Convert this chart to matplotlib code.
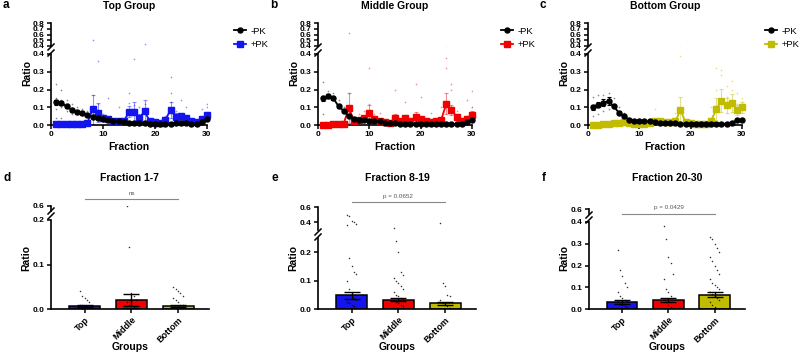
import numpy as np
import matplotlib.pyplot as plt
from matplotlib.lines import Line2D

plt.rcParams['font.family'] = ['Liberation Sans', 'DejaVu Sans']
plt.rcParams['font.weight'] = 'bold'

# ---------------- data: fraction profiles (mean, sem) ----------------
fractions = np.arange(1, 31)

top_neg = [0.128, 0.122, 0.105, 0.085, 0.075, 0.065, 0.055, 0.045, 0.04, 0.035,
           0.03, 0.025, 0.02, 0.015, 0.012, 0.01, 0.01, 0.01, 0.008, 0.008,
           0.008, 0.008, 0.008, 0.01, 0.01, 0.01, 0.008, 0.008, 0.015, 0.035]
top_neg_sem = [0.015, 0.012, 0.01, 0.008, 0.006, 0.006, 0.005, 0.005, 0.004, 0.004,
               0.004, 0.003, 0.003, 0.003, 0.002, 0.002, 0.002, 0.002, 0.002, 0.002,
               0.002, 0.002, 0.002, 0.002, 0.002, 0.002, 0.002, 0.002, 0.004, 0.008]
top_pos = [0.005, 0.005, 0.005, 0.005, 0.008, 0.008, 0.012, 0.088, 0.07, 0.04,
           0.035, 0.02, 0.025, 0.02, 0.075, 0.075, 0.04, 0.078, 0.02, 0.015,
           0.012, 0.03, 0.085, 0.045, 0.048, 0.04, 0.022, 0.015, 0.035, 0.055]
top_pos_sem = [0.002, 0.002, 0.002, 0.002, 0.003, 0.003, 0.004, 0.08, 0.055, 0.015,
               0.012, 0.006, 0.01, 0.006, 0.03, 0.055, 0.02, 0.065, 0.006, 0.005,
               0.004, 0.01, 0.045, 0.02, 0.02, 0.015, 0.006, 0.005, 0.012, 0.02]

mid_neg = [0.15, 0.163, 0.15, 0.105, 0.08, 0.05, 0.035, 0.03, 0.03, 0.025,
           0.025, 0.02, 0.012, 0.01, 0.01, 0.008, 0.006, 0.005, 0.005, 0.005,
           0.005, 0.005, 0.005, 0.005, 0.005, 0.005, 0.005, 0.008, 0.015, 0.028]
mid_neg_sem = [0.012, 0.01, 0.01, 0.01, 0.008, 0.006, 0.004, 0.004, 0.004, 0.003,
               0.003, 0.003, 0.002, 0.002, 0.002, 0.002, 0.002, 0.002, 0.002, 0.002,
               0.002, 0.002, 0.002, 0.002, 0.002, 0.002, 0.002, 0.002, 0.004, 0.008]
mid_pos = [0.002, 0.002, 0.005, 0.005, 0.008, 0.095, 0.025, 0.03, 0.04, 0.07,
           0.035, 0.025, 0.015, 0.012, 0.04, 0.025, 0.04, 0.02, 0.045, 0.035,
           0.02, 0.018, 0.02, 0.03, 0.12, 0.085, 0.045, 0.02, 0.035, 0.055]
mid_pos_sem = [0.001, 0.001, 0.002, 0.002, 0.003, 0.085, 0.008, 0.008, 0.01, 0.04,
               0.01, 0.006, 0.004, 0.004, 0.02, 0.008, 0.015, 0.006, 0.03, 0.012,
               0.005, 0.005, 0.006, 0.01, 0.06, 0.03, 0.012, 0.006, 0.01, 0.025]

bot_neg = [0.1, 0.115, 0.125, 0.135, 0.105, 0.07, 0.05, 0.03, 0.025, 0.022,
           0.02, 0.02, 0.015, 0.012, 0.01, 0.01, 0.01, 0.008, 0.008, 0.008,
           0.006, 0.006, 0.006, 0.006, 0.006, 0.006, 0.008, 0.01, 0.028, 0.03]
bot_neg_sem = [0.015, 0.015, 0.02, 0.02, 0.01, 0.008, 0.006, 0.004, 0.003, 0.003,
               0.003, 0.003, 0.002, 0.002, 0.002, 0.002, 0.002, 0.002, 0.002, 0.002,
               0.002, 0.002, 0.002, 0.002, 0.002, 0.002, 0.002, 0.002, 0.006, 0.006]
bot_pos = [0.002, 0.002, 0.005, 0.008, 0.01, 0.012, 0.015, 0.01, 0.008, 0.008,
           0.008, 0.01, 0.025, 0.02, 0.015, 0.015, 0.02, 0.085, 0.015, 0.01,
           0.005, 0.005, 0.008, 0.025, 0.09, 0.138, 0.11, 0.122, 0.085, 0.1]
bot_pos_sem = [0.001, 0.001, 0.002, 0.003, 0.003, 0.004, 0.005, 0.004, 0.003, 0.003,
               0.003, 0.004, 0.01, 0.008, 0.006, 0.006, 0.008, 0.075, 0.006, 0.004,
               0.002, 0.002, 0.003, 0.01, 0.06, 0.065, 0.04, 0.05, 0.03, 0.03]

# individual replicate points that stand out (fraction, ratio)
top_neg_pts = [(1, 0.23), (1, 0.15), (1, 0.09), (2, 0.2), (2, 0.14), (2, 0.1), (3, 0.14),
               (3, 0.08), (4, 0.12), (4, 0.06), (5, 0.1), (6, 0.09), (7, 0.08), (8, 0.06),
               (1, 0.04), (2, 0.04)]
top_pos_pts = [(8, 0.51), (9, 0.36), (16, 0.37), (18, 0.43), (15, 0.18), (15, 0.125),
               (16, 0.11), (23, 0.27), (23, 0.18), (23, 0.13), (25, 0.14), (11, 0.15),
               (13, 0.1), (17, 0.1), (18, 0.12), (10, 0.06), (29, 0.09), (30, 0.12),
               (30, 0.1), (26, 0.1), (24, 0.08), (22, 0.05), (9, 0.12), (8, 0.17)]
mid_neg_pts = [(1, 0.24), (1, 0.06), (2, 0.19), (3, 0.18), (4, 0.14), (5, 0.1), (6, 0.08),
               (30, 0.1), (29, 0.05)]
mid_pos_pts = [(6, 0.62), (6, 0.18), (10, 0.32), (10, 0.12), (25, 0.38), (25, 0.32),
               (26, 0.23), (26, 0.2), (19, 0.23), (20, 0.16), (15, 0.2), (17, 0.13),
               (30, 0.19), (29, 0.14), (12, 0.07), (9, 0.08), (8, 0.06), (11, 0.06),
               (24, 0.1), (27, 0.08), (22, 0.07)]
bot_neg_pts = [(1, 0.16), (1, 0.05), (2, 0.17), (2, 0.06), (3, 0.17), (3, 0.08), (4, 0.18),
               (4, 0.09), (5, 0.15), (6, 0.1), (7, 0.07)]
bot_pos_pts = [(18, 0.39), (25, 0.32), (26, 0.31), (26, 0.28), (27, 0.22), (28, 0.25),
               (28, 0.2), (29, 0.18), (30, 0.15), (25, 0.2), (13, 0.09), (17, 0.07),
               (24, 0.1), (27, 0.16), (29, 0.12), (30, 0.13)]

# ---------------- data: grouped bars ----------------
groups = ['Top', 'Middle', 'Bottom']
d_means = [0.007, 0.02, 0.007]
d_sems = [0.002, 0.014, 0.003]
d_pts = [[0.04, 0.03, 0.025, 0.02, 0.015, 0.01, 0.008, 0.005, 0.004, 0.003, 0.002, 0.001],
         [0.6, 0.14, 0.035, 0.03, 0.02, 0.015, 0.01, 0.008, 0.005, 0.003, 0.002],
         [0.05, 0.045, 0.04, 0.035, 0.03, 0.025, 0.02, 0.015, 0.01, 0.008, 0.005, 0.003]]
e_means = [0.048, 0.033, 0.02]
e_sems = [0.012, 0.006, 0.006]
e_pts = [[0.5, 0.48, 0.42, 0.41, 0.38, 0.37, 0.18, 0.15, 0.13, 0.125, 0.1, 0.07, 0.05,
          0.04, 0.03, 0.025, 0.02, 0.015, 0.01, 0.005],
         [0.33, 0.24, 0.2, 0.13, 0.12, 0.11, 0.1, 0.09, 0.08, 0.07, 0.06, 0.05, 0.045,
          0.04, 0.035, 0.03, 0.025, 0.02, 0.015, 0.01, 0.005],
         [0.39, 0.09, 0.08, 0.05, 0.045, 0.03, 0.02, 0.015, 0.01, 0.005]]
f_means = [0.032, 0.04, 0.065]
f_sems = [0.008, 0.01, 0.012]
f_pts = [[0.27, 0.18, 0.15, 0.12, 0.1, 0.08, 0.06, 0.05, 0.04, 0.035, 0.03, 0.025, 0.02,
          0.015, 0.01, 0.005],
         [0.38, 0.32, 0.24, 0.21, 0.16, 0.14, 0.09, 0.08, 0.06, 0.05, 0.04, 0.03, 0.02,
          0.01, 0.005],
         [0.33, 0.32, 0.3, 0.28, 0.26, 0.24, 0.22, 0.2, 0.18, 0.16, 0.14, 0.12, 0.11, 0.1,
          0.09, 0.08, 0.07, 0.06, 0.05, 0.04, 0.03, 0.02, 0.01]]

BLUE, RED, OLIVE = '#1414f0', '#f00000', '#c2bc00'
bar_colors = [BLUE, RED, OLIVE]

W, H = 800, 355
fig = plt.figure(figsize=(8, 3.55), dpi=100)


def box(x0, y0, x1, y1):
    return [x0 / W, 1 - y1 / H, (x1 - x0) / W, (y1 - y0) / H]


def ftext(x, y, s, **kw):
    fig.text(x / W, 1 - y / H, s, **kw)


def brk(x, y):
    fig.add_artist(Line2D([(x - 3) / W, (x + 3) / W], [1 - (y + 3) / H, 1 - (y - 3) / H],
                          transform=fig.transFigure, color='black', lw=1.1))


def style(ax, fs=6):
    for s in ('top', 'right'):
        ax.spines[s].set_visible(False)
    for s in ('left', 'bottom'):
        ax.spines[s].set_linewidth(1.2)
    ax.tick_params(width=1.1, length=3, labelsize=fs, pad=1.5)
    for lab in ax.get_yticklabels() + ax.get_xticklabels():
        lab.set_fontweight('bold')


def line_panel(x0, x1, letter, title, neg, neg_sem, pos, pos_sem, neg_pts, pos_pts,
               color, pos_marker, leg_x):
    lo = fig.add_axes(box(x0, 54, x1, 125))
    hi = fig.add_axes(box(x0, 23, x1, 46))
    for ax in (lo, hi):
        ax.set_xlim(0, 30)
        ax.patch.set_alpha(0)
        for pts, c in ((neg_pts, 'black'), (pos_pts, color)):
            px = [p[0] for p in pts]
            py = [p[1] for p in pts]
            ax.scatter(px, py, s=1.5, color=c, alpha=0.45, lw=0)
    for data, sem, c, m, a in ((pos, pos_sem, color, pos_marker, 0.45),
                               (neg, neg_sem, 'black', 'o', 1.0)):
        lo.errorbar(fractions, data, yerr=sem, fmt='none', ecolor=c, alpha=a,
                    elinewidth=0.8, capsize=1.5, capthick=0.8, clip_on=False)
        lo.plot(fractions, data, color=c, lw=1.3, marker=m, ms=3.6 if m == 'o' else 4,
                clip_on=False, zorder=4)
    lo.set_ylim(0, 0.4)
    lo.set_yticks([0, 0.1, 0.2, 0.3, 0.4])
    lo.set_yticklabels(['0.0', '0.1', '0.2', '0.3', '0.4'])
    lo.set_xticks([0, 10, 20, 30])
    hi.set_ylim(0.4, 0.8)
    hi.set_yticks([0.4, 0.5, 0.6, 0.7, 0.8])
    hi.set_yticklabels(['0.4', '0.5', '0.6', '0.7', '0.8'])
    style(lo)
    style(hi)
    hi.spines['bottom'].set_visible(False)
    hi.set_xticks([])
    brk(x0, 47)
    brk(x0, 53)
    ftext((x0 + x1) / 2, 6, title, ha='center', va='center', fontsize=7.5, fontweight='bold')
    ftext(x0 - 48, 5, letter, ha='left', va='center', fontsize=8.5, fontweight='bold')
    ftext((x0 + x1) / 2, 147, 'Fraction', ha='center', va='center', fontsize=7.5,
          fontweight='bold')
    ftext(x0 - 24, 73, 'Ratio', ha='center', va='center', fontsize=7.5,
          fontweight='bold', rotation=90)
    handles = [Line2D([], [], color='black', marker='o', ms=3.6, lw=1.3),
               Line2D([], [], color=color, marker=pos_marker, ms=4, lw=1.3)]
    lo.legend(handles, ['-PK', '+PK'], loc='upper left', frameon=False,
              bbox_to_anchor=(leg_x / W, 1 - 22 / H), bbox_transform=fig.transFigure,
              prop={'size': 6.8, 'weight': 'normal'}, handlelength=1.3, handletextpad=0.45,
              labelspacing=0.45, borderpad=0)


line_panel(51, 207, 'a', 'Top Group', top_neg, top_neg_sem, top_pos, top_pos_sem,
           top_neg_pts, top_pos_pts, BLUE, 's', 229)
line_panel(318, 472, 'b', 'Middle Group', mid_neg, mid_neg_sem, mid_pos, mid_pos_sem,
           mid_neg_pts, mid_pos_pts, RED, 's', 496)
line_panel(588, 742, 'c', 'Bottom Group', bot_neg, bot_neg_sem, bot_pos, bot_pos_sem,
           bot_neg_pts, bot_pos_pts, OLIVE, 's', 760)


def bar_panel(x0, x1, letter, title, means, sems, pts, lo_top, lo_lim, lo_ticks,
              hi_top, hi_bot, hi_lim, hi_ticks, brk_y, sig, sig_y):
    lo = fig.add_axes(box(x0, lo_top, x1, 309))
    hi = fig.add_axes(box(x0, hi_top, x1, hi_bot))
    xpos = np.arange(len(means))
    for ax in (lo, hi):
        ax.set_xlim(-0.72, 2.66)
        ax.patch.set_alpha(0)
        for i, vals in enumerate(pts):
            offs = [((k % 5) - 2) * 0.05 for k in range(len(vals))]
            ax.scatter(xpos[i] + np.array(offs), vals, s=1.2, color='black', lw=0,
                       zorder=5, alpha=0.8)
    lo.bar(xpos, means, width=0.66, color=bar_colors, edgecolor='black', lw=1.1, zorder=2)
    lo.errorbar(xpos, means, yerr=sems, fmt='none', ecolor='black', elinewidth=1,
                capsize=6, capthick=1, zorder=6)
    lo.set_ylim(*lo_lim)
    lo.set_yticks(lo_ticks)
    lo.set_yticklabels(['%.1f' % t for t in lo_ticks])
    hi.set_ylim(*hi_lim)
    hi.set_yticks(hi_ticks)
    hi.set_yticklabels(['%.1f' % t for t in hi_ticks])
    lo.set_xticks(xpos)
    lo.set_xticklabels(groups)
    style(lo)
    style(hi)
    for lab in lo.get_xticklabels():
        lab.set_rotation(45)
        lab.set_ha('right')
        lab.set_rotation_mode('anchor')
        lab.set_fontsize(6.5)
    hi.spines['bottom'].set_visible(False)
    hi.set_xticks([])
    brk(x0, brk_y)
    brk(x0, brk_y + 5)
    cx = [x0 + (x1 - x0) * (p + 0.72) / 3.38 for p in (0, 2)]
    fig.add_artist(Line2D([cx[0] / W, cx[1] / W], [1 - sig_y / H] * 2,
                          transform=fig.transFigure, color='#888888', lw=0.8))
    ftext((cx[0] + cx[1]) / 2, sig_y - 6, sig, ha='center', va='center', fontsize=4.5,
          fontweight='normal', color='#555555')
    ftext((x0 + x1) / 2, 178, title, ha='center', va='center', fontsize=7.5,
          fontweight='bold')
    ftext(x0 - 47, 178, letter, ha='left', va='center', fontsize=8.5, fontweight='bold')
    ftext((x0 + x1) / 2, 347, 'Groups', ha='center', va='center', fontsize=7.5,
          fontweight='bold')
    ftext(x0 - 25, 258, 'Ratio', ha='center', va='center', fontsize=7.5,
          fontweight='bold', rotation=90)


bar_panel(51, 209, 'd', 'Fraction 1-7', d_means, d_sems, d_pts,
          220, (0, 0.2), [0.0, 0.1, 0.2], 206, 211, (0.57, 0.6), [0.6], 211, 'ns', 199)
bar_panel(318, 476, 'e', 'Fraction 8-19', e_means, e_sems, e_pts,
          238, (0, 0.25), [0.0, 0.1, 0.2], 207, 230, (0.3, 0.6), [0.4, 0.6], 232,
          'p = 0.0652', 202)
bar_panel(589, 745, 'f', 'Fraction 20-30', f_means, f_sems, f_pts,
          222, (0, 0.4), [0.0, 0.1, 0.2, 0.3, 0.4], 209, 214, (0.57, 0.6), [0.6], 215,
          'p = 0.0429', 214)

fig.savefig('out.png', dpi=100)
